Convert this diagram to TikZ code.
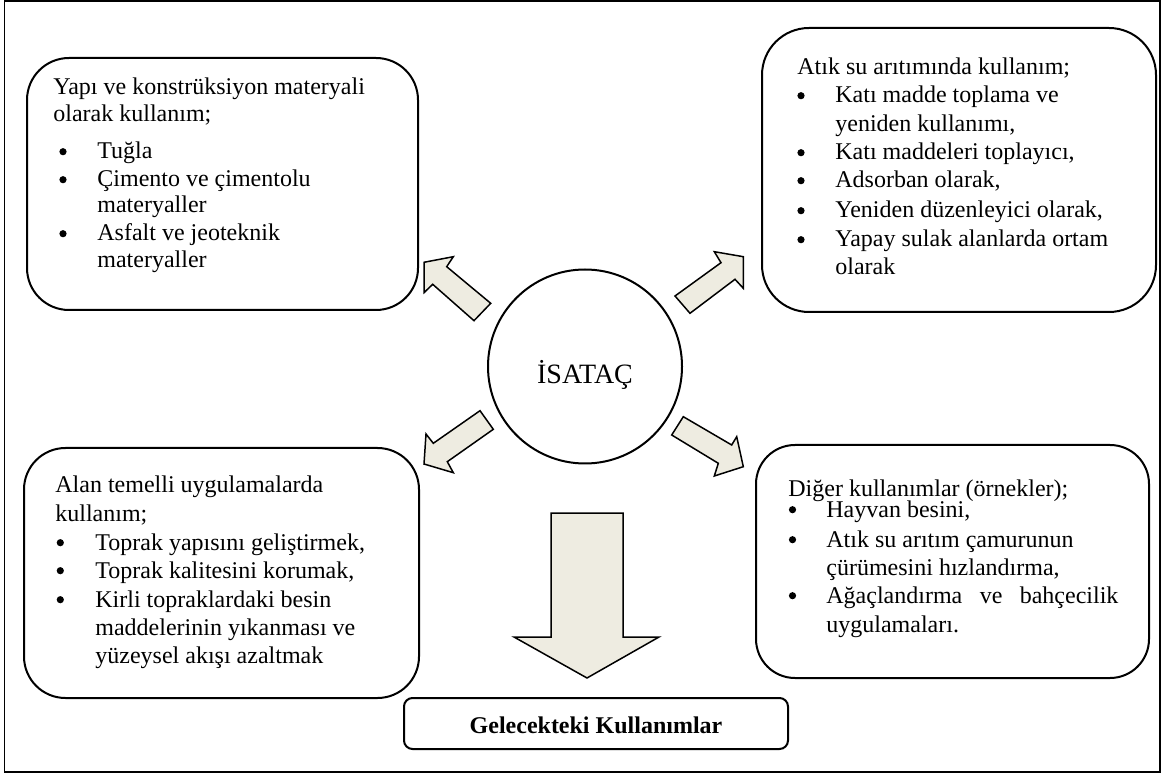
\documentclass[tikz,border=0pt]{standalone}
\usepackage{fontspec}
\setmainfont{Liberation Serif}
\usetikzlibrary{fit}
\definecolor{arrowfill}{HTML}{EEECE1}
\tikzset{
  frame/.style={draw, line width=0.75pt, inner sep=0pt},
  ubox/.style={draw, line width=1pt, inner sep=0pt},
  blk/.style={draw, line width=0.75pt, fill=arrowfill, line join=miter},
  txt/.style={anchor=base west, inner sep=0pt, font=\fontsize{12}{13.8}\selectfont},
  bulletdot/.style={fill=black},
}
\begin{document}
\begin{tikzpicture}[x=0.5pt,y=-0.5pt]
\useasboundingbox (0,0) rectangle (1166,774);
\node[fit={(4.5,1) (1160,772)}, frame] (frame) {};

% boxes
\node[fit={(27,58) (418,310)}, ubox, rounded corners=21pt] (tl) {};
\node[fit={(762,28) (1156,312)}, ubox, rounded corners=23.5pt] (tr) {};
\node[fit={(24,448) (419,698)}, ubox, rounded corners=20.75pt] (bl) {};
\node[fit={(756,445) (1149,678)}, ubox, rounded corners=19.5pt] (br) {};
\node[fit={(404,698) (788,749)}, ubox, rounded corners=4.25pt] (fut) {};
\node[circle, draw, line width=1pt, minimum size=97pt, inner sep=0pt] (c) at (585,366.5) {};

% centre text
\node[anchor=base, inner sep=0pt, font=\fontsize{14}{16}\selectfont] (isatac) at (585,384) {İSATAÇ};
\node[anchor=base, inner sep=0pt, font=\fontsize{12}{13.8}\selectfont\bfseries] (futt) at (596,733) {Gelecekteki Kullanımlar};

% block arrows
\draw[blk] (424,262.3) -- (453.3,256.7) -- (446.7,266.7) -- (490.7,303.3) -- (474,320.7) -- (432.7,284.3) -- (424,292.7) -- cycle;
\draw[blk] (714.3,251.7) -- (743.3,256.7) -- (743.3,288.3) -- (735,279.3) -- (690,313.3) -- (675,296) -- (721,262.7) -- cycle;
\draw[blk] (480,410.7) -- (493.3,429.3) -- (447.3,461.7) -- (453.3,472.7) -- (424,464) -- (426,434) -- (433.3,443.3) -- cycle;
\draw[blk] (683.3,416.7) -- (671.7,435) -- (718.3,463.3) -- (714.3,476) -- (743.3,466.7) -- (736.7,436.7) -- (731.7,445) -- cycle;
\draw[blk] (551,513) -- (623,513) -- (623,637) -- (659,637) -- (587,678) -- (514,637) -- (551,637) -- cycle;

% bullets
\foreach \p in {(63,151.7),(63,179.7),(63,233.7),
                (801,95.7),(801,152.7),(801,180.7),(801,210.7),(801,239.7),
                (60.3,542.7),(60.3,570.7),(60.3,599.7),
                (792.5,509.7),(792.5,539.7),(792.5,595.7)}
  \fill[bulletdot] \p circle (1.8pt);

% top-left text
\node[txt] (tl1) at (53,95) {Yapı ve konstrüksiyon materyali};
\node[txt] (tl2) at (53,122) {olarak kullanım;};
\node[txt] (tl3) at (97,159) {Tuğla};
\node[txt] (tl4) at (97,187) {Çimento ve çimentolu};
\node[txt] (tl5) at (97,213) {materyaller};
\node[txt] (tl6) at (97,241) {Asfalt ve jeoteknik};
\node[txt] (tl7) at (97,268) {materyaller};

% top-right text
\node[txt] (tr1) at (797,75) {Atık su arıtımında kullanım;};
\node[txt] (tr2) at (835,103) {Katı madde toplama ve};
\node[txt] (tr3) at (835,132) {yeniden kullanımı,};
\node[txt] (tr4) at (835,160) {Katı maddeleri toplayıcı,};
\node[txt] (tr5) at (835,188) {Adsorban olarak,};
\node[txt] (tr6) at (835,218) {Yeniden düzenleyici olarak,};
\node[txt] (tr7) at (835,247) {Yapay sulak alanlarda ortam};
\node[txt] (tr8) at (835,275) {olarak};

% bottom-left text
\node[txt] (bl1) at (55,493) {Alan temelli uygulamalarda};
\node[txt] (bl2) at (55,522) {kullanım;};
\node[txt] (bl3) at (95,550) {Toprak yapısını geliştirmek,};
\node[txt] (bl4) at (95,578) {Toprak kalitesini korumak,};
\node[txt] (bl5) at (95,607) {Kirli topraklardaki besin};
\node[txt] (bl6) at (95,635) {maddelerinin yıkanması ve};
\node[txt] (bl7) at (95,663) {yüzeysel akışı azaltmak};

% bottom-right text
\node[txt] (br1) at (788,496) {Diğer kullanımlar (örnekler);};
\node[txt] (br2) at (826,517) {Hayvan besini,};
\node[txt] (br3) at (826,547) {Atık su arıtım çamurunun};
\node[txt] (br4) at (826,575) {çürümesini hızlandırma,};
\node[txt] (br5) at (826,603) {\makebox[146pt][s]{Ağaçlandırma\hfill ve\hfill bahçecilik}};
\node[txt] (br6) at (826,632) {uygulamaları.};
\end{tikzpicture}
\end{document}
